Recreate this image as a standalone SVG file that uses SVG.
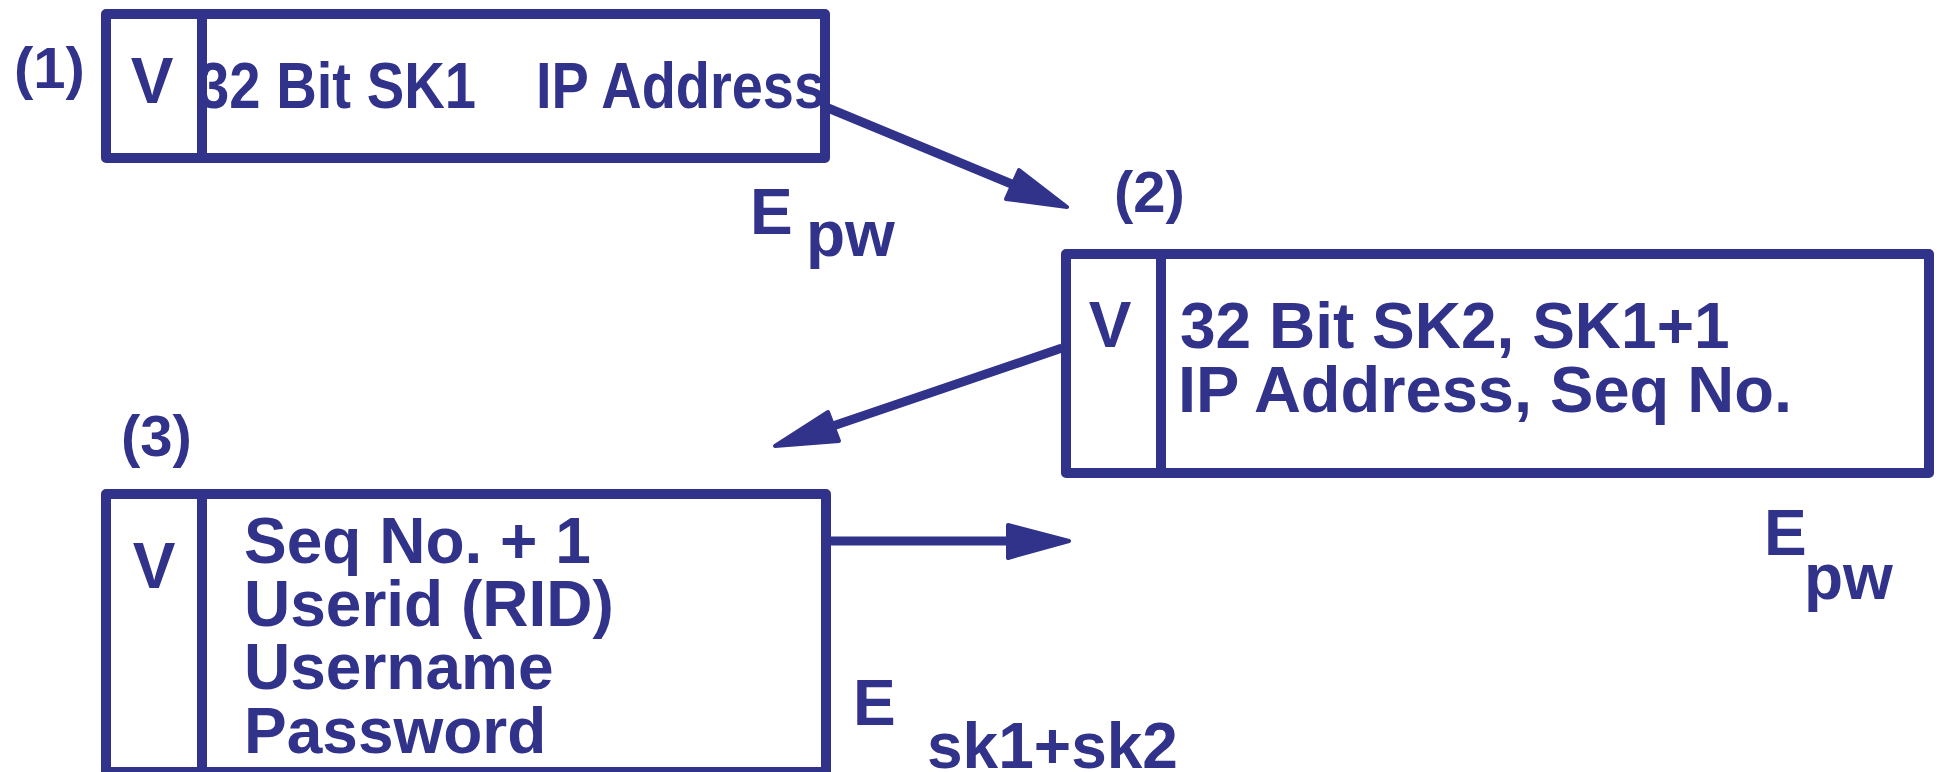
<svg xmlns="http://www.w3.org/2000/svg" width="1939" height="772" viewBox="0 0 1939 772">
<style>
.bx{fill:none;stroke:#31328a;stroke-width:10;stroke-linejoin:round}
.dv{stroke:#31328a;stroke-width:10}
.t{font-family:"Liberation Sans",Arial,Helvetica,sans-serif;font-weight:bold;font-size:64px;fill:#31328a}
.n{font-size:58px}
.ln{stroke:#31328a;stroke-width:9;fill:none}
.hd{fill:#31328a;stroke:#31328a;stroke-width:4;stroke-linejoin:round}
</style>
<rect width="1939" height="772" fill="#ffffff"/>
<g id="box1">
<text class="t n" x="14" y="88">(1)</text>
<text class="t" x="198" y="108" textLength="278" lengthAdjust="spacingAndGlyphs">32 Bit SK1</text>
<text class="t" x="536" y="108" textLength="289" lengthAdjust="spacingAndGlyphs">IP Address</text>
<rect class="bx" x="106" y="14" width="719" height="144"/>
<line class="dv" x1="202" y1="14" x2="202" y2="158"/>
<text class="t" x="152" y="103" text-anchor="middle">V</text>
<text class="t" x="750" y="234">E</text>
<text class="t" x="806" y="256">pw</text>
</g>
<g id="box2">
<text class="t n" x="1114" y="212">(2)</text>
<rect class="bx" x="1066" y="254" width="863" height="219"/>
<line class="dv" x1="1161" y1="254" x2="1161" y2="473"/>
<text class="t" x="1110" y="347" text-anchor="middle">V</text>
<text class="t" x="1180" y="348">32 Bit SK2, SK1+1</text>
<text class="t" x="1178" y="412" textLength="614" lengthAdjust="spacingAndGlyphs">IP Address, Seq No.</text>
<text class="t" x="1764" y="555">E</text>
<text class="t" x="1804" y="599">pw</text>
</g>
<g id="box3">
<text class="t n" x="121" y="456">(3)</text>
<rect class="bx" x="106" y="494" width="720" height="278"/>
<line class="dv" x1="202" y1="494" x2="202" y2="772"/>
<text class="t" x="154" y="588" text-anchor="middle">V</text>
<text class="t" x="244" y="563">Seq No. + 1</text>
<text class="t" x="244" y="626">Userid (RID)</text>
<text class="t" x="244" y="689">Username</text>
<text class="t" x="244" y="753">Password</text>
<text class="t" x="853" y="725">E</text>
<text class="t" x="927" y="768">sk1+sk2</text>
</g>
<g id="connectors">
<line class="ln" x1="828" y1="108" x2="1014" y2="185"/>
<polygon class="hd" points="1019,170 1067,207 1006,199"/>
<line class="ln" x1="1062" y1="348" x2="830" y2="427"/>
<polygon class="hd" points="828,412 775,446 839,441"/>
<line class="ln" x1="826" y1="541" x2="1010" y2="541"/>
<polygon class="hd" points="1008,525 1069,541 1008,558"/>
</g>
</svg>
